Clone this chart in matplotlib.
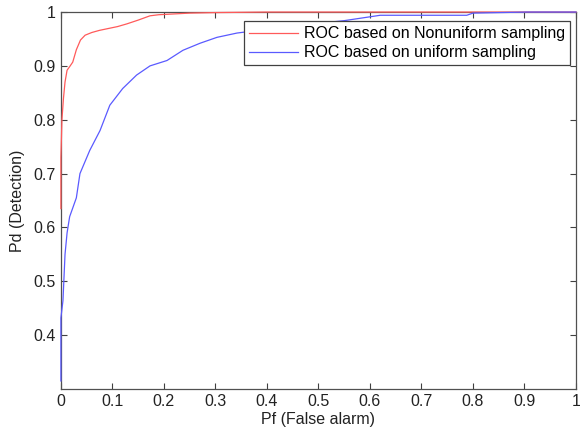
import matplotlib
matplotlib.use("Agg")
import matplotlib.pyplot as plt

plt.rcParams['font.family'] = ['Liberation Sans', 'DejaVu Sans']

# ROC
pf_nonuniform = [0, 0, 0.002, 0.005, 0.008, 0.012, 0.018, 0.023, 0.03, 0.038, 0.047, 0.06,
                 0.075, 0.095, 0.11, 0.128, 0.15, 0.173, 0.19, 0.21, 0.25, 0.3, 0.4, 1.0]
pd_nonuniform = [0.635, 0.73, 0.80, 0.84, 0.87, 0.892, 0.90, 0.907, 0.93, 0.948, 0.957, 0.962,
                 0.966, 0.97, 0.973, 0.978, 0.985, 0.993, 0.995, 0.996, 0.998, 0.999, 1.0, 1.0]

pf_uniform = [0, 0, 0.004, 0.008, 0.012, 0.017, 0.03, 0.037, 0.056, 0.076, 0.095, 0.12, 0.147,
              0.173, 0.206, 0.237, 0.27, 0.303, 0.342, 0.4, 0.45, 0.5, 0.55, 0.62, 0.788, 0.8,
              0.905, 1.0]
pd_uniform = [0.315, 0.432, 0.464, 0.55, 0.59, 0.62, 0.655, 0.70, 0.743, 0.78, 0.827, 0.858, 0.883,
              0.90, 0.91, 0.929, 0.942, 0.953, 0.961, 0.968, 0.974, 0.979, 0.984, 0.994, 0.994, 0.998,
              1.0, 1.0]

labels = ["ROC based on Nonuniform sampling", "ROC based on uniform sampling"]

fig = plt.figure(figsize=(5.8, 4.33), dpi=100)
ax = fig.add_axes([0.105, 0.1016, 0.888, 0.8706])

# zorder above the spines so the vertical bits at pf=0 stay visible
ax.plot(pf_nonuniform, pd_nonuniform, color='#ff5a5a', lw=0.9, label=labels[0],
        zorder=3, clip_on=False)
ax.plot(pf_uniform, pd_uniform, color='#5a5aff', lw=0.9, label=labels[1],
        zorder=3, clip_on=False)

ax.set_xlim(0, 1)
ax.set_ylim(0.3, 1)
ax.set_xticks([i / 10 for i in range(11)])
ax.set_xticklabels(["0", "0.1", "0.2", "0.3", "0.4", "0.5", "0.6", "0.7", "0.8", "0.9", "1"])
ax.set_yticks([0.4, 0.5, 0.6, 0.7, 0.8, 0.9, 1.0])
ax.set_yticklabels(["0.4", "0.5", "0.6", "0.7", "0.8", "0.9", "1"])
ax.tick_params(direction='in', top=True, right=True, length=4, width=0.8,
               color='#404040', labelsize=11.5, labelcolor='#222222')
for s in ax.spines.values():
    s.set_color('#505050')
    s.set_linewidth(0.9)

ax.set_xlabel("Pf (False alarm)", fontsize=11.5, color='#222222', labelpad=2)
ax.set_ylabel("Pd (Detection)", fontsize=11.5, color='#222222', labelpad=6)

leg = ax.legend(loc='upper right', bbox_to_anchor=(0.988, 0.975), fontsize=11.5,
                handlelength=3.1, handletextpad=0.35, labelspacing=0.25,
                borderpad=0.3, borderaxespad=0, fancybox=False, framealpha=1)
leg.get_frame().set_edgecolor('#404040')
leg.get_frame().set_linewidth(0.9)
leg.set_zorder(5)

fig.savefig("out.png", dpi=100)
